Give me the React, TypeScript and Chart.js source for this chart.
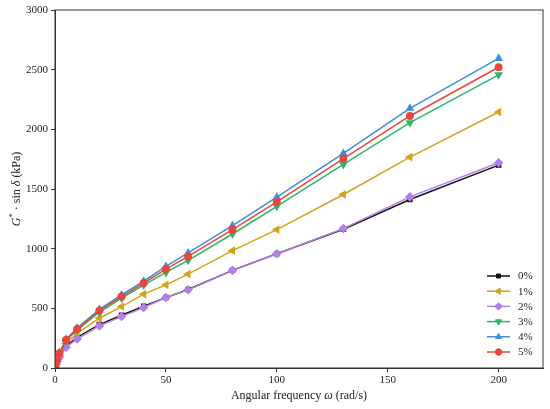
import React, { useEffect, useRef } from "react";
import { Chart, registerables } from "chart.js";
import { drawPoint } from "chart.js/helpers";

Chart.register(...registerables);

const frequencies = [0.1, 0.5, 1, 2, 5, 10, 20, 30, 40, 50, 60, 80, 100, 130, 160, 200];
const labels = ["0%", "1%", "2%", "3%", "4%", "5%"];
const s0 = [9, 34, 58, 96, 185, 256, 364, 442, 517, 590, 658, 818, 958, 1162, 1412, 1700];
const s1 = [10, 38, 64, 105, 206, 291, 417, 515, 619, 697, 787, 983, 1160, 1454, 1767, 2145];
const s2 = [8, 32, 55, 92, 174, 244, 353, 431, 507, 591, 655, 818, 958, 1168, 1434, 1720];
const s3 = [11, 43, 72, 118, 228, 318, 467, 585, 695, 801, 902, 1123, 1355, 1706, 2056, 2457];
const s4 = [13, 47, 78, 127, 240, 335, 492, 612, 727, 851, 964, 1193, 1431, 1798, 2176, 2594];
const s5 = [12, 45, 75, 123, 235, 328, 481, 599, 712, 829, 935, 1160, 1392, 1754, 2112, 2520];
const seriesValues = [s0, s1, s2, s3, s4, s5];
const xTicks = [0, 50, 100, 150, 200];
const yTicks = [0, 500, 1000, 1500, 2000, 2500, 3000];

const colors = ["#111111", "#d4a21c", "#b47eea", "#2fb36a", "#3d8ede", "#e6473a"];
const styles = ["rect", "triangle", "rectRot", "triangle", "triangle", "circle"];
const rotations = [0, -90, 0, 180, 0, 0];
const radii = [2.8, 3.5, 3.7, 3.5, 3.5, 3.2];

const FONT = "'Liberation Serif', 'DejaVu Serif', serif";
const AXIS = "#333333";

const framePlugin = {
  id: "frame",
  afterDraw(chart: any) {
    const { ctx, chartArea } = chart;
    ctx.save();
    ctx.strokeStyle = AXIS;
    ctx.lineWidth = 1;
    ctx.strokeRect(chartArea.left, chartArea.top, chartArea.right - chartArea.left, chartArea.bottom - chartArea.top);
    ctx.restore();
  },
};

function drawRuns(ctx: any, runs: any[], x: number, y: number) {
  let w = 0;
  for (const r of runs) {
    ctx.font = r.font;
    w += ctx.measureText(r.text).width;
  }
  let cx = x - w / 2;
  for (const r of runs) {
    ctx.font = r.font;
    ctx.fillText(r.text, cx, y + (r.dy || 0));
    cx += ctx.measureText(r.text).width;
  }
}

const titlesPlugin = {
  id: "titles",
  afterDraw(chart: any) {
    const { ctx, chartArea } = chart;
    ctx.save();
    ctx.fillStyle = "#222222";
    ctx.textBaseline = "middle";
    const n = `12px ${FONT}`;
    const it = `italic 12px ${FONT}`;
    const sup = `9px ${FONT}`;
    const cx = (chartArea.left + chartArea.right) / 2;
    drawRuns(
      ctx,
      [
        { text: "Angular frequency ", font: n },
        { text: "ω", font: it },
        { text: " (rad/s)", font: n },
      ],
      cx,
      396
    );
    ctx.translate(17, (chartArea.top + chartArea.bottom) / 2);
    ctx.rotate(-Math.PI / 2);
    drawRuns(
      ctx,
      [
        { text: "G", font: it },
        { text: "*", font: sup, dy: -4 },
        { text: " · sin ", font: n },
        { text: "δ", font: it },
        { text: " (kPa)", font: n },
      ],
      0,
      0
    );
    ctx.restore();
  },
};

const legendPlugin = {
  id: "customLegend",
  afterDraw(chart: any) {
    const { ctx, chartArea } = chart;
    ctx.save();
    const x0 = chartArea.right - 56;
    const x1 = x0 + 23;
    let y = chartArea.bottom - 92;
    ctx.textBaseline = "middle";
    ctx.font = `11px ${FONT}`;
    labels.forEach((lab, i) => {
      ctx.strokeStyle = colors[i];
      ctx.lineWidth = 1.5;
      ctx.beginPath();
      ctx.moveTo(x0, y);
      ctx.lineTo(x1, y);
      ctx.stroke();
      ctx.fillStyle = colors[i];
      ctx.lineWidth = 1;
      drawPoint(ctx, { pointStyle: styles[i], rotation: rotations[i], radius: radii[i], borderWidth: 1 }, (x0 + x1) / 2, y);
      ctx.fillStyle = "#222222";
      ctx.fillText(lab, x1 + 8, y + 0.5);
      y += 15.2;
    });
    ctx.restore();
  },
};

export default function App() {
  const ref = useRef<HTMLCanvasElement | null>(null);
  useEffect(() => {
    if (!ref.current) return;
    const datasets = seriesValues.map((vals, i) => ({
      label: labels[i],
      data: vals.map((v, j) => ({ x: frequencies[j], y: v })),
      borderColor: colors[i],
      backgroundColor: colors[i],
      pointBackgroundColor: colors[i],
      pointBorderColor: colors[i],
      pointStyle: styles[i],
      pointRotation: rotations[i],
      pointRadius: radii[i],
      borderWidth: 1.5,
      order: 6 - i,
    }));
    const chart = new Chart(ref.current, {
      type: "line",
      data: { datasets },
      options: {
        animation: false,
        responsive: true,
        maintainAspectRatio: false,
        layout: { padding: { top: 10, right: 7, left: 0, bottom: 0 } },
        plugins: { legend: { display: false }, tooltip: { enabled: false } },
        scales: {
          x: {
            type: "linear",
            min: 0,
            max: 220,
            afterBuildTicks: (s: any) => {
              s.ticks = xTicks.map((v) => ({ value: v }));
            },
            afterFit: (s: any) => {
              s.height = 41;
            },
            grid: { display: true, drawOnChartArea: false, drawTicks: true, tickLength: 4, color: AXIS },
            border: { display: true, color: AXIS, width: 1 },
            ticks: {
              color: "#222222",
              font: { family: FONT, size: 11 },
              padding: 2,
              maxRotation: 0,
              callback: (v: any) => String(v),
            },
          },
          y: {
            type: "linear",
            min: 0,
            max: 3000,
            afterBuildTicks: (s: any) => {
              s.ticks = yTicks.map((v) => ({ value: v }));
            },
            afterFit: (s: any) => {
              s.width = 55;
            },
            grid: { display: true, drawOnChartArea: false, drawTicks: true, tickLength: 4, color: AXIS },
            border: { display: true, color: AXIS, width: 1 },
            ticks: {
              color: "#222222",
              font: { family: FONT, size: 11 },
              padding: 3,
              callback: (v: any) => String(v),
            },
          },
        },
      },
      plugins: [framePlugin, titlesPlugin, legendPlugin],
    });
    return () => chart.destroy();
  }, []);
  return (
    <div style={{ position: "fixed", left: 0, top: 0, width: 550, height: 409, background: "#fff" }}>
      <canvas ref={ref} />
    </div>
  );
}
